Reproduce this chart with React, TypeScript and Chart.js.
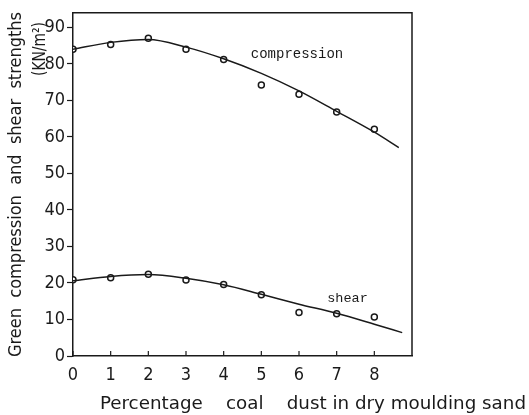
import React, { useEffect, useRef } from "react";
import { Chart, registerables } from "chart.js";

Chart.register(...registerables);

const xValues = [0, 1, 2, 3, 4, 5, 6, 7, 8];
const compressionPoints = [84, 85.3, 87, 84, 81.2, 74.2, 71.7, 66.8, 62.1];
const shearPoints = [20.9, 21.4, 22.4, 20.8, 19.6, 16.8, 11.9, 11.6, 10.7];

const compressionFitX = [0, 1, 2, 3, 4, 5, 6, 7, 8, 8.65];
const compressionFit = [84, 85.9, 86.7, 84.6, 81.4, 77.4, 72.6, 67.0, 61.3, 57.1];
const shearFitX = [0, 1, 2, 3, 4, 5, 6, 7, 8, 8.74];
const shearFit = [20.6, 21.8, 22.3, 21.3, 19.5, 16.9, 14.2, 11.7, 8.7, 6.4];

const xTicks = [0, 1, 2, 3, 4, 5, 6, 7, 8];
const yTicks = [0, 10, 20, 30, 40, 50, 60, 70, 80, 90];

const yTitle = "Green  compression  and  shear  strengths";
const yUnit = "(KN/m²)";
const xTitle = "Percentage    coal    dust in dry moulding sand";
const compressionLabel = "compression";
const shearLabel = "shear";

const INK = "#1a1a1a";
const SANS = '"DejaVu Sans Condensed", "DejaVu Sans", sans-serif';
const MONO = '"Liberation Mono", "DejaVu Sans Mono", monospace';

function fitText(ctx: any, text: string, x: number, y: number, width: number) {
  const w = ctx.measureText(text).width;
  ctx.save();
  ctx.translate(x, y);
  ctx.scale(width / w, 1);
  ctx.fillText(text, 0, 0);
  ctx.restore();
}

const decorPlugin = {
  id: "decor",
  afterDraw(chart: any) {
    const { ctx, chartArea, scales } = chart;
    const { left, right, top, bottom } = chartArea;
    ctx.save();
    ctx.strokeStyle = INK;
    ctx.lineWidth = 1.5;
    ctx.beginPath();
    ctx.moveTo(left, top);
    ctx.lineTo(right, top);
    ctx.lineTo(right, bottom);
    ctx.stroke();
    ctx.lineWidth = 1.2;
    for (const v of xTicks) {
      const px = scales.x.getPixelForValue(v);
      ctx.beginPath();
      ctx.moveTo(px, bottom);
      ctx.lineTo(px, bottom - 5);
      ctx.stroke();
    }
    ctx.fillStyle = INK;
    ctx.textBaseline = "middle";
    ctx.textAlign = "left";
    // y title
    ctx.save();
    ctx.translate(17, 357);
    ctx.rotate(-Math.PI / 2);
    ctx.font = `17px ${SANS}`;
    fitText(ctx, yTitle, 0, 0, 345);
    ctx.restore();
    // unit
    ctx.save();
    ctx.translate(41, 76);
    ctx.rotate(-Math.PI / 2);
    ctx.font = `17px ${SANS}`;
    fitText(ctx, yUnit, 0, 0, 54);
    ctx.restore();
    // x title
    ctx.font = `18px ${SANS}`;
    fitText(ctx, xTitle, 100, 404, 426);
    // curve labels
    ctx.font = `14px ${MONO}`;
    ctx.fillText(compressionLabel, scales.x.getPixelForValue(4.72), scales.y.getPixelForValue(82.6));
    ctx.font = `13.5px ${MONO}`;
    ctx.fillText(shearLabel, scales.x.getPixelForValue(6.75), scales.y.getPixelForValue(15.8));
    ctx.restore();
  },
};

export default function App() {
  const ref = useRef<HTMLCanvasElement | null>(null);

  useEffect(() => {
    if (!ref.current) return;
    const pts = (xs: number[], ys: number[]) => xs.map((x, i) => ({ x, y: ys[i] }));
    const pointStyle = {
      showLine: false,
      pointRadius: 3,
      pointHoverRadius: 3,
      pointBorderWidth: 1.5,
      pointBorderColor: INK,
      pointBackgroundColor: "#ffffff",
      borderColor: INK,
    };
    const lineStyle = {
      showLine: true,
      pointRadius: 0,
      borderColor: INK,
      borderWidth: 1.5,
      cubicInterpolationMode: "monotone",
      fill: false,
    };
    const chart = new Chart(ref.current, {
      type: "scatter",
      data: {
        datasets: [
          { label: "compression fit", data: pts(compressionFitX, compressionFit), ...lineStyle } as any,
          { label: "shear fit", data: pts(shearFitX, shearFit), ...lineStyle } as any,
          { label: "compression", data: pts(xValues, compressionPoints), ...pointStyle } as any,
          { label: "shear", data: pts(xValues, shearPoints), ...pointStyle } as any,
        ],
      },
      options: {
        responsive: false,
        animation: false,
        layout: { padding: { left: 0, top: 10, right: 117, bottom: 0 } },
        plugins: { legend: { display: false }, tooltip: { enabled: false } },
        scales: {
          x: {
            type: "linear",
            min: 0,
            max: 9,
            afterBuildTicks: (axis: any) => {
              axis.ticks = xTicks.map((v) => ({ value: v }));
            },
            afterFit: (s: any) => {
              s.height = 59;
            },
            grid: { display: true, drawOnChartArea: false, drawTicks: false },
            border: { display: true, color: INK, width: 1.5 },
            ticks: { color: INK, font: { family: SANS, size: 18 }, padding: 9, maxRotation: 0 },
          },
          y: {
            type: "linear",
            min: 0,
            max: 94,
            afterBuildTicks: (axis: any) => {
              axis.ticks = yTicks.map((v) => ({ value: v }));
            },
            afterFit: (s: any) => {
              s.width = 73;
            },
            grid: { display: true, drawOnChartArea: false, drawTicks: true, tickLength: 6, color: INK, tickWidth: 1.2 },
            border: { display: true, color: INK, width: 1.5 },
            ticks: { color: INK, font: { family: SANS, size: 18 }, padding: 2 },
          },
        },
      },
      plugins: [decorPlugin],
    } as any);
    return () => chart.destroy();
  }, []);

  return (
    <div style={{ position: "absolute", left: 0, top: 0, width: 529, height: 415, background: "#fff" }}>
      <canvas ref={ref} width={529} height={415} />
    </div>
  );
}
